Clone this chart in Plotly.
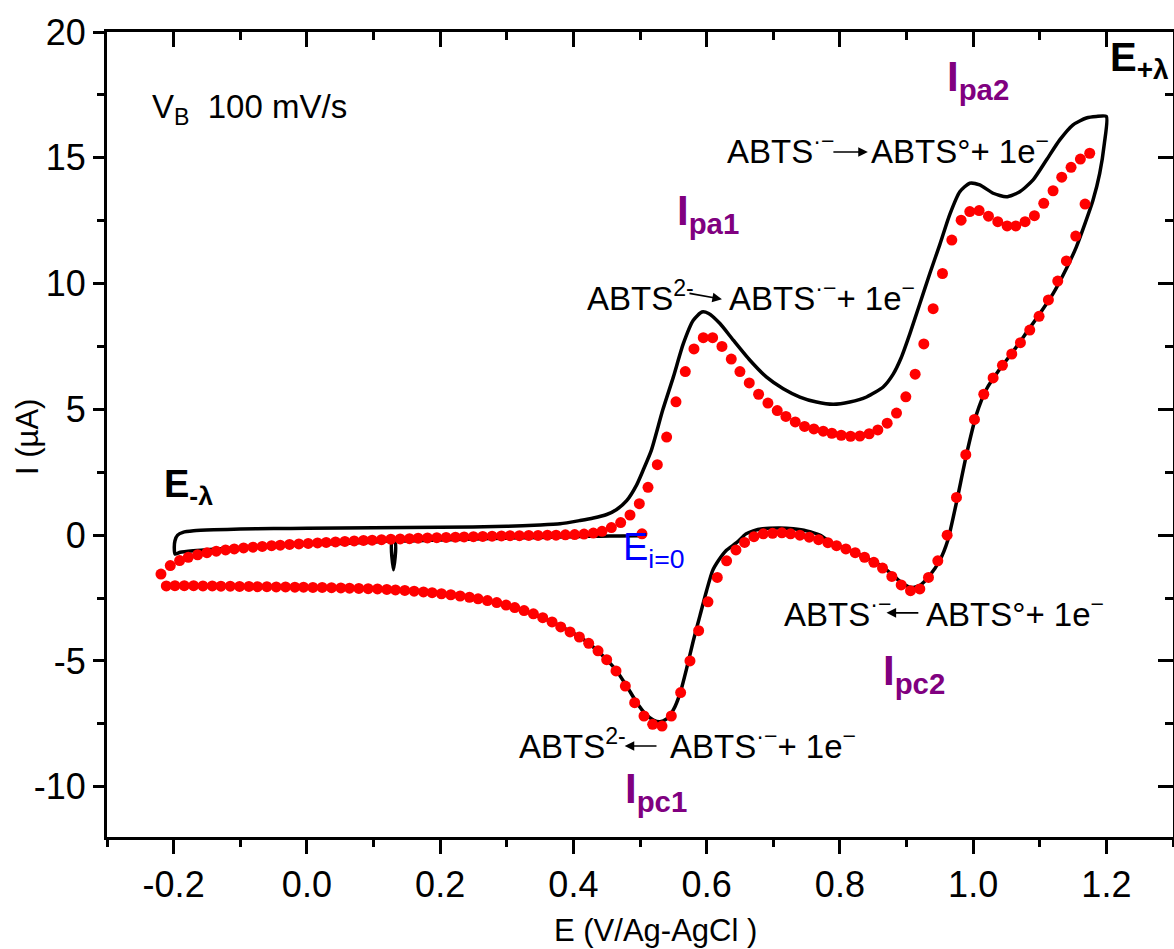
import plotly.graph_objects as go

# ---------------- data ----------------
# experimental CV (black line): potential E (V) and current I (uA), in scan order
E_exp = [0.500, 0.470, 0.440, 0.400, 0.350, 0.300, 0.250, 0.200, 0.150, 0.128, 0.130, 0.132,
         0.100, 0.050, 0.000, -0.050, -0.100, -0.140, -0.170, -0.190, -0.198,
         -0.199, -0.198, -0.194, -0.186, -0.170, -0.140, -0.100, -0.050, 0.000, 0.100, 0.200,
         0.300, 0.350, 0.380, 0.410, 0.430, 0.450, 0.465, 0.480, 0.495, 0.505, 0.517, 0.534,
         0.550, 0.565, 0.580, 0.593, 0.603, 0.620, 0.640, 0.665, 0.690, 0.715, 0.740, 0.765,
         0.790, 0.815, 0.840, 0.865, 0.880, 0.892, 0.905, 0.920, 0.935, 0.950, 0.965, 0.980,
         0.995, 1.010, 1.030, 1.050, 1.070, 1.090, 1.110, 1.130, 1.150, 1.170, 1.185, 1.200,
         1.197, 1.190, 1.180, 1.168, 1.155, 1.140, 1.120, 1.100, 1.080, 1.060, 1.040, 1.020,
         1.005, 0.990, 0.975, 0.962, 0.950, 0.935, 0.920, 0.907, 0.893, 0.880, 0.865, 0.850,
         0.830, 0.810, 0.790, 0.770, 0.750, 0.730, 0.710, 0.684, 0.670, 0.659, 0.645, 0.629,
         0.618, 0.609, 0.600, 0.590, 0.580, 0.570, 0.560, 0.550, 0.540, 0.530, 0.520, 0.508,
         0.495, 0.480, 0.465, 0.450, 0.430, 0.410, 0.390, 0.370, 0.350, 0.320, 0.290, 0.260,
         0.230, 0.200, 0.150, 0.100, 0.050, 0.000, -0.050, -0.100, -0.150, -0.200]
I_exp = [-0.02, -0.03, -0.04, -0.06, -0.09, -0.12, -0.15, -0.19, -0.23, -0.25, -1.38, -0.26,
         -0.28, -0.33, -0.37, -0.42, -0.49, -0.56, -0.62, -0.68, -0.75,
         -0.50, -0.22, 0.00, 0.11, 0.17, 0.21, 0.24, 0.26, 0.27, 0.29, 0.31,
         0.35, 0.40, 0.45, 0.58, 0.68, 0.82, 1.02, 1.37, 2.00, 2.60, 3.37, 4.96,
         6.28, 7.61, 8.54, 8.87, 8.81, 8.41, 7.75, 6.95, 6.28, 5.82, 5.49, 5.29,
         5.20, 5.29, 5.49, 5.89, 6.40, 7.05, 8.00, 9.20, 10.40, 11.55, 12.75, 13.65,
         13.99, 13.92, 13.59, 13.45, 13.65, 14.12, 14.91, 15.71, 16.31, 16.58, 16.64, 16.64,
         15.58, 14.38, 13.32, 12.39, 11.46, 10.60, 9.60, 8.80, 8.05, 7.30, 6.60, 5.80,
         4.80, 3.20, 1.30, -0.20, -1.00, -1.60, -2.00, -2.08, -1.90, -1.60, -1.28, -1.05,
         -0.78, -0.55, -0.35, 0.00, 0.17, 0.25, 0.28, 0.25, 0.17, 0.05, -0.30, -0.62,
         -1.00, -1.41, -2.20, -3.20, -4.20, -5.30, -6.30, -6.95, -7.30, -7.42, -7.35, -7.10,
         -6.65, -6.00, -5.40, -4.95, -4.45, -4.05, -3.75, -3.48, -3.25, -2.95, -2.73, -2.55,
         -2.42, -2.33, -2.21, -2.14, -2.10, -2.08, -2.06, -2.04, -2.02, -2.01]

# simulated CV (red dots): start point, forward (anodic) sweep, reverse (cathodic) sweep
E_sim_start = [0.503]
I_sim_start = [0.05]

E_sim_fwd = [-0.219, -0.205, -0.191, -0.178, -0.164, -0.150, -0.136, -0.122, -0.109, -0.095,
             -0.081, -0.067, -0.053, -0.040, -0.026, -0.012, 0.002, 0.016, 0.029, 0.043,
             0.057, 0.071, 0.085, 0.098, 0.112, 0.126, 0.140, 0.154, 0.167, 0.181,
             0.195, 0.209, 0.223, 0.236, 0.250, 0.264, 0.278, 0.292, 0.305, 0.319,
             0.333, 0.347, 0.361, 0.374, 0.388, 0.402, 0.416, 0.430, 0.443, 0.457,
             0.471, 0.485, 0.499, 0.512, 0.526, 0.540, 0.554, 0.568, 0.581, 0.595,
             0.609, 0.623, 0.637, 0.650, 0.664, 0.678, 0.692, 0.706, 0.719, 0.733,
             0.747, 0.761, 0.775, 0.788, 0.802, 0.816, 0.830, 0.844, 0.857, 0.871,
             0.885, 0.899, 0.913, 0.926, 0.940, 0.954, 0.968, 0.982, 0.995, 1.009,
             1.023, 1.037, 1.051, 1.064, 1.078, 1.092, 1.106, 1.120, 1.133, 1.147,
             1.161, 1.175]
I_sim_fwd = [-1.55, -1.21, -1.01, -0.88, -0.78, -0.70, -0.64, -0.59, -0.55, -0.51,
             -0.48, -0.45, -0.42, -0.40, -0.37, -0.35, -0.33, -0.31, -0.29, -0.27,
             -0.25, -0.23, -0.21, -0.20, -0.18, -0.16, -0.15, -0.14, -0.12, -0.11,
             -0.10, -0.09, -0.08, -0.07, -0.06, -0.05, -0.04, -0.03, -0.02, -0.02,
             -0.01, -0.01, 0.00, 0.00, 0.01, 0.02, 0.04, 0.08, 0.15, 0.30,
             0.50, 0.80, 1.25, 1.90, 2.80, 3.90, 5.30, 6.50, 7.40, 7.85,
             7.85, 7.50, 7.00, 6.50, 6.05, 5.60, 5.25, 4.95, 4.72, 4.50,
             4.32, 4.22, 4.13, 4.05, 3.97, 3.93, 3.94, 4.03, 4.18, 4.45,
             4.85, 5.50, 6.40, 7.60, 9.00, 10.40, 11.73, 12.52, 12.86, 12.90,
             12.68, 12.46, 12.29, 12.29, 12.46, 12.70, 13.19, 13.69, 14.23, 14.62,
             14.95, 15.18]

E_sim_rev = [1.168, 1.154, 1.140, 1.127, 1.113, 1.099, 1.085, 1.071, 1.058, 1.044,
             1.030, 1.016, 1.002, 0.989, 0.975, 0.961, 0.947, 0.933, 0.920, 0.906,
             0.892, 0.878, 0.864, 0.851, 0.837, 0.823, 0.809, 0.795, 0.782, 0.768,
             0.754, 0.740, 0.726, 0.713, 0.699, 0.685, 0.671, 0.657, 0.644, 0.630,
             0.616, 0.602, 0.588, 0.575, 0.561, 0.547, 0.533, 0.519, 0.506, 0.492,
             0.478, 0.464, 0.450, 0.437, 0.423, 0.409, 0.395, 0.381, 0.368, 0.354,
             0.340, 0.326, 0.312, 0.299, 0.285, 0.271, 0.257, 0.244, 0.230, 0.216,
             0.202, 0.188, 0.175, 0.161, 0.147, 0.133, 0.120, 0.106, 0.092, 0.078,
             0.064, 0.051, 0.037, 0.023, 0.009, -0.005, -0.018, -0.032, -0.046, -0.060,
             -0.074, -0.087, -0.101, -0.115, -0.129, -0.142, -0.156, -0.170, -0.184, -0.198,
             -0.211]
I_sim_rev = [13.16, 11.89, 10.90, 10.10, 9.35, 8.70, 8.15, 7.65, 7.20, 6.75,
             6.25, 5.60, 4.60, 3.20, 1.50, 0.00, -1.02, -1.68, -2.14, -2.21,
             -1.98, -1.64, -1.31, -1.08, -0.88, -0.70, -0.55, -0.42, -0.30, -0.18,
             -0.08, 0.00, 0.05, 0.09, 0.07, 0.05, -0.06, -0.29, -0.59, -1.02,
             -1.68, -2.65, -3.80, -5.00, -6.26, -7.19, -7.59, -7.52, -7.19, -6.66,
             -6.00, -5.40, -4.95, -4.60, -4.30, -4.05, -3.85, -3.65, -3.45, -3.28,
             -3.13, -3.00, -2.88, -2.78, -2.68, -2.60, -2.53, -2.47, -2.42, -2.37,
             -2.33, -2.29, -2.26, -2.23, -2.20, -2.18, -2.16, -2.14, -2.13, -2.12,
             -2.11, -2.10, -2.09, -2.08, -2.08, -2.07, -2.07, -2.06, -2.06, -2.05,
             -2.05, -2.04, -2.04, -2.03, -2.03, -2.02, -2.02, -2.01, -2.01, -2.01,
             -2.02]

x_tickvals = [-0.2, 0.0, 0.2, 0.4, 0.6, 0.8, 1.0, 1.2]
x_ticktext = ["-0.2", "0.0", "0.2", "0.4", "0.6", "0.8", "1.0", "1.2"]
x_minor = [-0.3, -0.1, 0.1, 0.3, 0.5, 0.7, 0.9, 1.1, 1.3]
y_tickvals = [-10, -5, 0, 5, 10, 15, 20]
y_ticktext = ["-10", "-5", "0", "5", "10", "15", "20"]
y_minor = [-7.5, -2.5, 2.5, 7.5, 12.5, 17.5]

FONT = "Liberation Sans, Arial, sans-serif"

# ---------------- figure ----------------
fig = go.Figure()
fig.add_trace(go.Scatter(x=E_exp, y=I_exp, mode="lines",
                         line=dict(color="black", width=3.5, shape="spline", smoothing=0.6),
                         showlegend=False, hoverinfo="skip"))
fig.add_trace(go.Scatter(x=E_sim_start + E_sim_fwd + E_sim_rev,
                         y=I_sim_start + I_sim_fwd + I_sim_rev,
                         mode="markers",
                         marker=dict(color="#ff0000", size=11, line=dict(width=0)),
                         showlegend=False, hoverinfo="skip"))
# empty trace to carry the mirrored top/right axes
fig.add_trace(go.Scatter(x=[], y=[], xaxis="x2", yaxis="y2", showlegend=False))

axis_common = dict(showline=True, linecolor="black", linewidth=3, showgrid=False,
                   zeroline=False, tickcolor="black", tickwidth=3,
                   tickfont=dict(family=FONT, size=36, color="black"))

fig.update_layout(
    width=1174, height=949,
    margin=dict(l=107, r=1, t=32, b=112),
    paper_bgcolor="white", plot_bgcolor="white",
    font=dict(family=FONT, color="black"),
    xaxis=dict(range=[-0.3, 1.3], tickmode="array", tickvals=x_tickvals, ticktext=x_ticktext,
               ticks="outside", ticklen=14,
               minor=dict(tickmode="array", tickvals=x_minor, ticks="outside", ticklen=7,
                          tickwidth=3, tickcolor="black"),
               **axis_common),
    yaxis=dict(range=[-12, 20], tickmode="array", tickvals=y_tickvals, ticktext=y_ticktext,
               ticks="outside", ticklen=11,
               minor=dict(tickmode="array", tickvals=y_minor, ticks="outside", ticklen=7,
                          tickwidth=3, tickcolor="black"),
               **axis_common),
    xaxis2=dict(range=[-0.3, 1.3], overlaying="x", side="top", anchor="y2",
                tickmode="array", tickvals=x_tickvals, showticklabels=False,
                ticks="inside", ticklen=15,
                minor=dict(tickmode="array", tickvals=x_minor, ticks="inside", ticklen=8,
                           tickwidth=3, tickcolor="black"),
                **axis_common),
    yaxis2=dict(range=[-12, 20], overlaying="y", side="right", anchor="x2",
                tickmode="array", tickvals=y_tickvals, showticklabels=False,
                ticks="inside", ticklen=15,
                minor=dict(tickmode="array", tickvals=y_minor, ticks="inside", ticklen=8,
                           tickwidth=3, tickcolor="black"),
                **axis_common),
)

ann = []

def txt(x, y, text, size=33, color="black", anchor="left"):
    ann.append(dict(x=x, y=y, xref="x", yref="y", text=text, showarrow=False,
                    xanchor=anchor, yanchor="middle",
                    font=dict(family=FONT, size=size, color=color)))

def arrow(x_tail, y_tail, x_head, y_head):
    ann.append(dict(x=x_head, y=y_head, ax=x_tail, ay=y_tail, xref="x", yref="y",
                    axref="x", ayref="y", text="", showarrow=True, arrowhead=2,
                    arrowsize=1.2, arrowwidth=1.6, arrowcolor="black",
                    standoff=0, startstandoff=0))

PURPLE = "#800080"
MINUS = "\u2212"

txt(-0.236, 16.95, "V<sub>B</sub>\u00a0\u00a0100 mV/s", size=33)
txt(-0.218, 1.9, "<b>E<sub>-λ</sub></b>", size=38)
txt(1.203, 18.9, "<b>E<sub>+λ</sub></b>", size=40)
txt(0.471, -0.6, "E<sub>i=0</sub>", size=38, color="#0000ff")

txt(0.958, 18.1, "<b>I<sub>pa2</sub></b>", size=42, color=PURPLE)
txt(0.553, 12.8, "<b>I<sub>pa1</sub></b>", size=42, color=PURPLE)
txt(0.862, -5.5, "<b>I<sub>pc2</sub></b>", size=42, color=PURPLE)
txt(0.475, -10.2, "<b>I<sub>pc1</sub></b>", size=42, color=PURPLE)

# reaction labels
txt(0.627, 15.35, "ABTS<sup>·" + MINUS + "</sup>")
arrow(0.788, 15.23, 0.842, 15.23)
txt(0.843, 15.35, "ABTS°+ 1e<sup>" + MINUS + "</sup>")

txt(0.417, 9.5, "ABTS<sup>2-</sup>")
arrow(0.572, 9.62, 0.623, 9.38)
txt(0.630, 9.5, "ABTS<sup>·" + MINUS + "</sup>+ 1e<sup>" + MINUS + "</sup>")

txt(0.713, -3.05, "ABTS<sup>·" + MINUS + "</sup>")
arrow(0.920, -3.09, 0.870, -3.09)
txt(0.927, -3.05, "ABTS°+ 1e<sup>" + MINUS + "</sup>")

txt(0.315, -8.3, "ABTS<sup>2-</sup>")
arrow(0.527, -8.38, 0.477, -8.38)
txt(0.542, -8.3, "ABTS<sup>·" + MINUS + "</sup>+ 1e<sup>" + MINUS + "</sup>")

# axis titles
ann.append(dict(x=0.515, y=-0.116, xref="paper", yref="paper", text="E (V/Ag-AgCl )",
                showarrow=False, xanchor="center", yanchor="middle",
                font=dict(family=FONT, size=31, color="black")))
ann.append(dict(x=-0.074, y=0.497, xref="paper", yref="paper", text="I (µA)",
                showarrow=False, xanchor="center", yanchor="middle", textangle=-90,
                font=dict(family=FONT, size=31, color="black")))

fig.update_layout(annotations=ann)
fig.write_html("out.html")
